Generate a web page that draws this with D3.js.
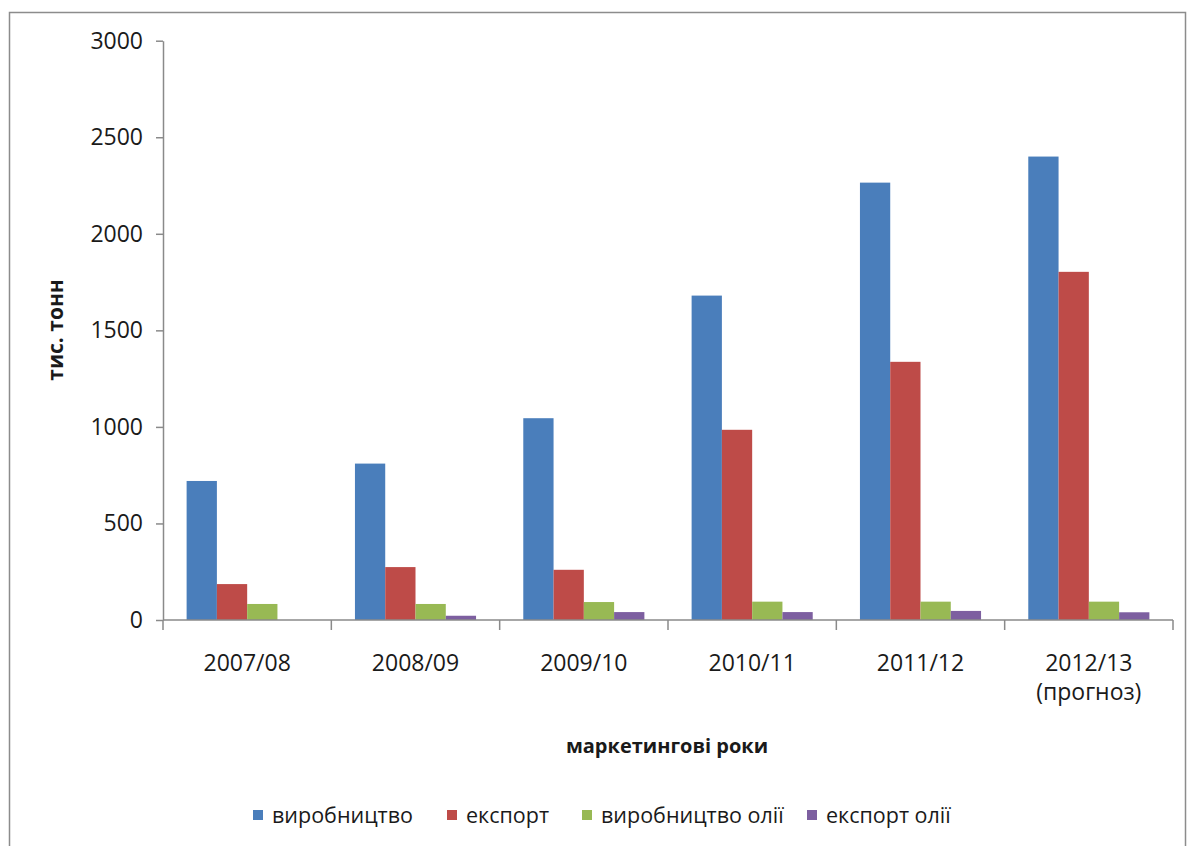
<!DOCTYPE html>
<html><head><meta charset="utf-8">
<script src="https://cdn.jsdelivr.net/npm/d3@7"></script>
<style>body{margin:0;background:#fff}svg{display:block}text{font-family:"Open Sans",sans-serif;fill:#1a1a1a}</style>
</head><body>
<script>
const categories = ["2007/08","2008/09","2009/10","2010/11","2011/12","2012/13\n(прогноз)"];
const seriesNames = ["виробництво","експорт","виробництво олії","експорт олії"];
const production = [720, 810, 1045, 1680, 2265, 2400];
const exportV = [186, 274, 260, 985, 1337, 1803];
const oilProduction = [83, 83, 93, 95, 95, 95];
const oilExport = [0, 22, 41, 41, 47, 40];
const yTicks = [0, 500, 1000, 1500, 2000, 2500, 3000];
const colors = ["#4A7EBB", "#BE4B48", "#98B954", "#7D5FA0"];

(function () {
const series = [production, exportV, oilProduction, oilExport];
const W = 1188, H = 846;
const svg = d3.select("body").append("svg").attr("width", W).attr("height", H);

svg.append("rect").attr("x", 9.5).attr("y", 12.5).attr("width", 1176).attr("height", 845)
  .attr("fill", "none").attr("stroke", "#8c8c8c").attr("stroke-width", 1.5);

const pLeft = 163, pRight = 1173, pTop = 40.7, pBottom = 620;
const x = d3.scaleBand().domain(categories).range([pLeft, pRight]).padding(0);
const xs = d3.scaleBand().domain(seriesNames).range([0, x.bandwidth()]).paddingInner(0).paddingOuter(0.78);
const y = d3.scaleLinear().domain([0, 3000]).range([pBottom, pTop]);

// bars
categories.forEach((c, i) => {
  seriesNames.forEach((s, j) => {
    const v = series[j][i];
    if (v <= 0) return;
    svg.append("rect")
      .attr("x", x(c) + xs(s))
      .attr("y", y(v))
      .attr("width", xs.bandwidth())
      .attr("height", y(0) - y(v))
      .attr("fill", colors[j]);
  });
});

// y axis
const yAxis = d3.axisLeft(y).tickValues(yTicks).tickFormat(d3.format("d")).tickSize(7).tickPadding(13).tickSizeOuter(0);
const gy = svg.append("g").attr("transform", `translate(${pLeft},0)`).call(yAxis);
gy.selectAll("path,line").attr("stroke", "#8a8a8a").attr("stroke-width", 1.5);
gy.selectAll("text").style("font-size", "23px").style("font-family", '"Open Sans",sans-serif').attr("fill", "#1a1a1a");

// x axis
const gx = svg.append("g").attr("transform", `translate(0,${pBottom})`);
gx.append("line").attr("x1", pLeft).attr("x2", pRight).attr("y1", 0).attr("y2", 0)
  .attr("stroke", "#8a8a8a").attr("stroke-width", 1.5);
const bounds = categories.map(c => x(c)).concat([pRight]);
gx.selectAll("line.tk").data(bounds).enter().append("line").attr("class","tk")
  .attr("x1", d => d).attr("x2", d => d).attr("y1", 0).attr("y2", 10)
  .attr("stroke", "#8a8a8a").attr("stroke-width", 1.5);
categories.forEach(c => {
  const lines = c.split("\n");
  const t = gx.append("text").attr("text-anchor", "middle").style("font-size", "23px")
    .attr("x", x(c) + x.bandwidth() / 2).attr("y", 51);
  lines.forEach((l, k) => t.append("tspan").attr("x", x(c) + x.bandwidth() / 2).attr("dy", k ? 29 : 0).text(l));
});

// axis titles
svg.append("text").attr("x", 667).attr("y", 753).attr("text-anchor", "middle")
  .style("font-size", "20px").style("font-weight", "bold").text("маркетингові роки");
svg.append("text").attr("transform", "translate(63,330) rotate(-90)").attr("text-anchor", "middle")
  .style("font-size", "21px").style("font-weight", "bold").text("тис. тонн");

// legend
const legX = [253, 447, 582, 807];
seriesNames.forEach((s, j) => {
  svg.append("rect").attr("x", legX[j]).attr("y", 810).attr("width", 10).attr("height", 10).attr("fill", colors[j]);
  svg.append("text").attr("x", legX[j] + 19).attr("y", 823).style("font-size", "21.5px").text(s);
});
})();
</script>
</body></html>
